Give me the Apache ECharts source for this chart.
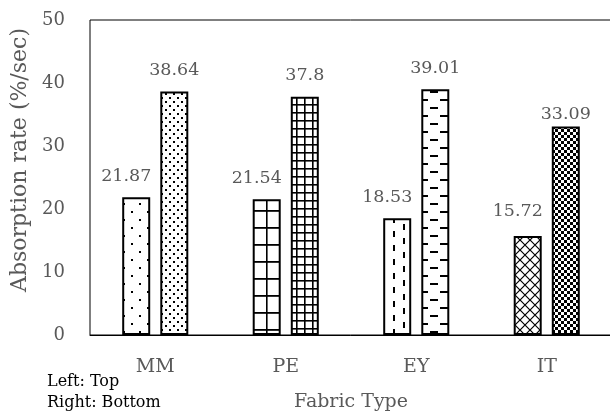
<!DOCTYPE html>
<html>
<head>
<meta charset="utf-8">
<script src="https://cdn.jsdelivr.net/npm/echarts@6/dist/echarts.min.js"></script>
<style>
html,body{margin:0;padding:0;background:#fff;}
#chart{width:610px;height:416px;}
</style>
</head>
<body>
<div id="chart"></div>
<script>
// ---- data ----
const categories = ['MM', 'PE', 'EY', 'IT'];
const topValues = [21.87, 21.54, 18.53, 15.72];      // left bars: Top
const bottomValues = [38.64, 37.8, 39.01, 33.09];    // right bars: Bottom
const yMin = 0, yMax = 50, yInterval = 10;
const xTitle = 'Fabric Type';
const yTitle = 'Absorption rate (%/sec)';
const noteLines = ['Left: Top', 'Right: Bottom'];

// ---- style: per-label vertical nudges (px) ----
const topLabelNudge = [0, 0, 0, -4];
const bottomLabelNudge = [0, 0, 0, 9];

// ---- patterns (style only) ----
function makePattern(w, h, draw) {
  const c = document.createElement('canvas');
  c.width = w; c.height = h;
  const ctx = c.getContext('2d');
  ctx.fillStyle = '#fff';
  ctx.fillRect(0, 0, w, h);
  ctx.fillStyle = '#000';
  ctx.strokeStyle = '#000';
  draw(ctx, w, h);
  return { image: c, repeat: 'repeat' };
}
const pSparseDots = makePattern(16, 16, (g) => { g.fillRect(3, 3, 2, 2); g.fillRect(11, 11, 2, 2); });
const pDenseDots = makePattern(8, 8, (g) => { g.fillRect(1, 1, 2, 2); g.fillRect(5, 5, 2, 2); });
const pLargeGrid = makePattern(15, 17, (g) => { g.fillRect(11, 0, 1.6, 17); g.fillRect(0, 6, 15, 1.8); });
const pSmallGrid = makePattern(8, 8, (g) => { g.fillRect(0, 0, 1.6, 8); g.fillRect(0, 0, 8, 1.6); });
const pVDash = makePattern(20, 14, (g) => { g.fillRect(3, 0, 2, 6); g.fillRect(13, 7, 2, 6); });
const pHDash = makePattern(20, 16, (g) => { g.fillRect(0, 3, 8, 2); g.fillRect(10, 11, 8, 2); });
const pDiag = makePattern(10, 10, (g) => {
  g.lineWidth = 1.2;
  g.beginPath(); g.moveTo(0, 0); g.lineTo(10, 10); g.moveTo(10, 0); g.lineTo(0, 10); g.stroke();
});
const pChecker = makePattern(6, 6, (g) => { g.fillRect(0, 0, 3, 3); g.fillRect(3, 3, 3, 3); });

const topPatterns = [pSparseDots, pLargeGrid, pVDash, pDiag];
const bottomPatterns = [pDenseDots, pSmallGrid, pHDash, pChecker];

const serif = 'DejaVu Serif';
const gray = '#595959';

const chart = echarts.init(document.getElementById('chart'), null, { renderer: 'canvas' });

function barItems(values, patterns, nudges, dx) {
  return values.map((v, i) => ({
    value: v,
    itemStyle: { color: patterns[i] },
    label: { offset: [dx, nudges[i]] }
  }));
}

chart.setOption({
  animation: false,
  backgroundColor: '#fff',
  grid: { left: 90, top: 20, right: -2, bottom: 81, outerBoundsMode: 'none', containLabel: false, show: true, borderColor: '#000', borderWidth: 1 },
  xAxis: {
    type: 'category',
    data: categories,
    axisTick: { show: false },
    axisLine: { lineStyle: { color: '#000', width: 1 } },
    axisLabel: { color: gray, fontFamily: serif, fontSize: 19, margin: 23 },
    name: xTitle,
    nameLocation: 'middle',
    nameGap: 58,
    nameTextStyle: { color: gray, fontFamily: serif, fontSize: 19 }
  },
  yAxis: {
    type: 'value',
    min: yMin, max: yMax, interval: yInterval,
    splitLine: { show: false },
    axisLine: { show: false },
    axisTick: { show: false },
    axisLabel: { color: gray, fontFamily: serif, fontSize: 18, margin: 25 },
    name: yTitle,
    nameLocation: 'middle',
    nameGap: 49,
    nameTextStyle: { color: gray, fontFamily: serif, fontSize: 22, padding: [0, 0, 0, 35] }
  },
  series: [
    {
      type: 'bar',
      name: 'Top',
      data: barItems(topValues, topPatterns, topLabelNudge, -10),
      barWidth: 28,
      barGap: '36%',
      itemStyle: { borderColor: '#000', borderWidth: 2 },
      label: { show: true, position: 'top', distance: 12, color: gray, fontFamily: serif, fontSize: 17.5 }
    },
    {
      type: 'bar',
      name: 'Bottom',
      data: barItems(bottomValues, bottomPatterns, bottomLabelNudge, 0),
      barWidth: 28,
      barGap: '36%',
      itemStyle: { borderColor: '#000', borderWidth: 2 },
      label: { show: true, position: 'top', distance: 12, color: gray, fontFamily: serif, fontSize: 17.5 }
    }
  ],
  graphic: [
    { type: 'text', left: 47, top: 374, style: { text: noteLines[0], fill: '#000', font: '16px "DejaVu Serif"' } },
    { type: 'text', left: 47, top: 395, style: { text: noteLines[1], fill: '#000', font: '16px "DejaVu Serif"' } }
  ]
});
</script>
</body>
</html>
